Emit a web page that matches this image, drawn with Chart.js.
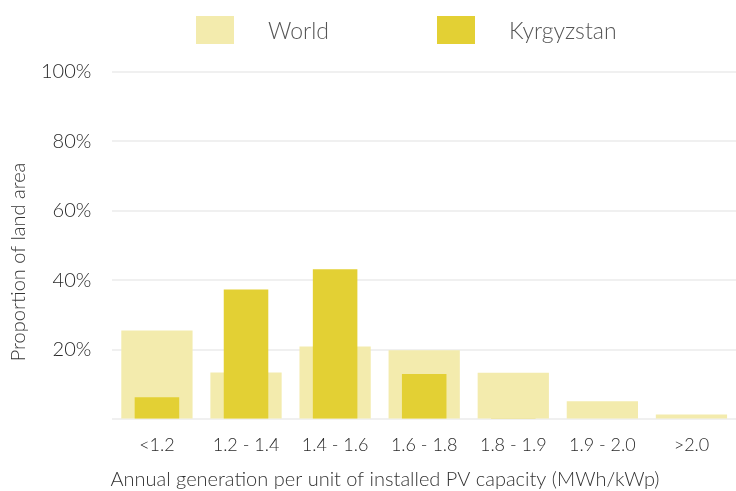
<!DOCTYPE html>
<html>
<head>
<meta charset="utf-8">
<script src="https://cdn.jsdelivr.net/npm/chart.js@4"></script>
<style>
  body { margin: 0; background: #fff; }
  #wrap { position: relative; width: 736px; height: 491px; font-family: Lato, "Open Sans", sans-serif; font-weight: 300; }
  #legend { position: absolute; top: 16px; left: 196px; display: flex; }
  .item { display: flex; align-items: center; width: 241px; color: #555; font-size: 23px; }
  .box { width: 38px; height: 28px; margin-right: 34px; }
</style>
</head>
<body>
<div id="wrap">
  <canvas id="chart" width="736" height="491"></canvas>
  <div id="legend"></div>
</div>
<script>
const categories = ["<1.2", "1.2 - 1.4", "1.4 - 1.6", "1.6 - 1.8", "1.8 - 1.9", "1.9 - 2.0", ">2.0"];
const worldValues = [25.6, 13.5, 21.0, 19.9, 13.4, 5.2, 1.4];
const kyrgyzValues = [6.4, 37.4, 43.2, 13.1, 0.3, 0, 0];
const yTicks = [0, 20, 40, 60, 80, 100];

const xTitle = "Annual generation per unit of installed PV capacity (MWh/kWp)";
const yTitle = "Proportion of land area";

const worldColor = "#F3EBAD";
const kyrgyzColor = "#E3D034";
const fontFamily = "Lato, 'Open Sans', sans-serif";

// axis titles drawn by hand, the reference places them off-centre
const axisTitles = {
    id: "axisTitles",
    afterDraw(chart) {
        const c = chart.ctx;
        c.save();
        c.fillStyle = "#333";
        c.font = "300 20px " + fontFamily;
        c.textAlign = "center";
        c.textBaseline = "alphabetic";
        c.fillText(xTitle, 385, 486);
        c.translate(25, 262);
        c.rotate(-Math.PI / 2);
        c.fillText(yTitle, 0, 0);
        c.restore();
    }
};

const chart = new Chart(document.getElementById("chart"), {
    type: "bar",
    data: {
        labels: categories,
        datasets: [
            {
                label: "World",
                data: worldValues,
                backgroundColor: worldColor,
                barPercentage: 0.8,
                categoryPercentage: 1,
                grouped: false,
                order: 2
            },
            {
                label: "Kyrgyzstan",
                data: kyrgyzValues,
                backgroundColor: kyrgyzColor,
                barPercentage: 0.5,
                categoryPercentage: 1,
                grouped: false,
                order: 1
            }
        ]
    },
    options: {
        responsive: false,
        animation: false,
        layout: { padding: { top: 72, right: 0, left: 20, bottom: 28 } },
        plugins: {
            legend: { display: false },
            tooltip: { enabled: false }
        },
        scales: {
            x: {
                grid: { display: false },
                border: { display: false },
                ticks: {
                    color: "#2a2a2a",
                    padding: 7,
                    font: { family: fontFamily, size: 18, weight: 300 }
                }
            },
            y: {
                min: 0,
                max: 100,
                afterBuildTicks: axis => {
                    axis.ticks = yTicks.map(v => ({ value: v }));
                },
                grid: {
                    color: "#F0F0F0",
                    lineWidth: 2,
                    drawTicks: false
                },
                border: { display: false },
                ticks: {
                    color: "#2a2a2a",
                    padding: 21,
                    font: { family: fontFamily, size: 20, weight: 300 },
                    callback: v => (v === 0 ? "" : v + "%")
                }
            }
        }
    },
    plugins: [axisTitles]
});

const legend = document.getElementById("legend");
chart.data.datasets.forEach(ds => {
    legend.innerHTML += `
        <div class="item">
            <div class="box" style="background:${ds.backgroundColor}"></div>
            <span>${ds.label}</span>
        </div>
    `;
});
</script>
</body>
</html>
